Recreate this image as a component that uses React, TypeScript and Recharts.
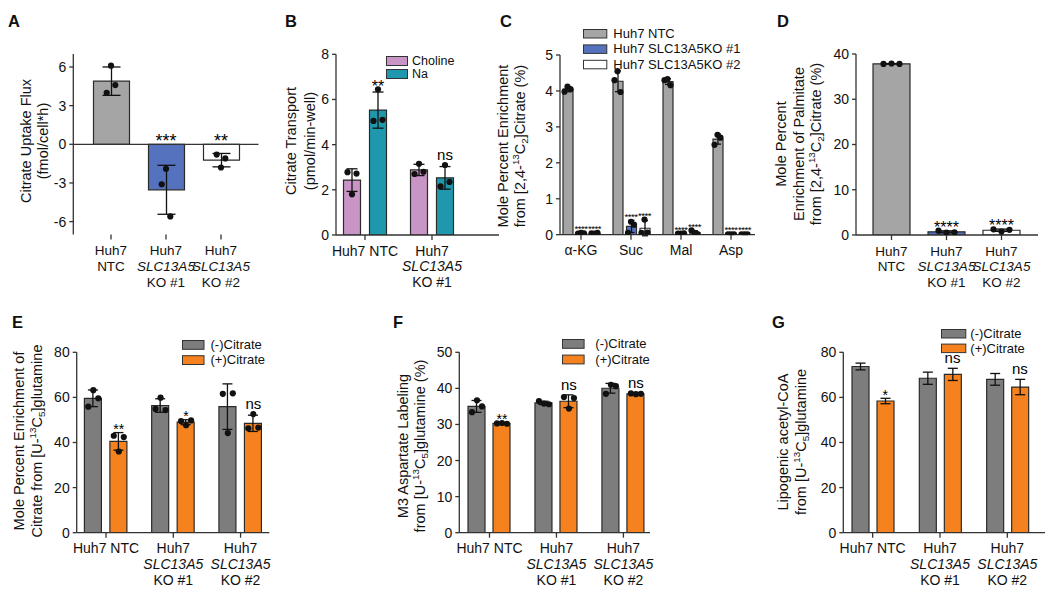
import React from 'react';
import { ComposedChart, Bar, Scatter, XAxis, YAxis, ErrorBar, Cell, ReferenceLine, Legend } from 'recharts';

const W = 1050;
const H = 607;
const FONT = '"Liberation Sans", Arial, Helvetica, sans-serif';
const INK = '#111111';
const AXIS = '#333333';

const GRAY_LIGHT = '#a5a5a5';
const BLUE = '#5472bd';
const WHITE = '#ffffff';
const CHOLINE = '#c994c6';
const NA = '#1f98ad';
const GRAY_DARK = '#7d7d7d';
const ORANGE = '#f5821f';

// ---------------- Panel A ----------------
const A_CATS = ['NTC', 'KO1', 'KO2'];
const A_TICKS = [['Huh7', 'NTC'], ['Huh7', 'SLC13A5', 'KO #1'], ['Huh7', 'SLC13A5', 'KO #2']];
const A_MEAN = [4.9, -3.53, -1.23];
const A_SD = [1.1, 1.9, 0.52];
const A_REPS = [[4.0, 6.1, 4.6], [-3.1, -1.9, -5.6], [-0.8, -1.8, -1.1]];
const A_SIG = ['', '***', '**'];

// ---------------- Panel B ----------------
const B_CATS = ['NTC', 'KO1'];
const B_TICKS = [['Huh7 NTC'], ['Huh7', 'SLC13A5', 'KO #1']];
const B_CHOLINE_MEAN = [2.43, 2.88];
const B_CHOLINE_SD = [0.5, 0.25];
const B_CHOLINE_REPS = [[2.78, 1.8, 2.72], [2.7, 3.15, 2.8]];
const B_NA_MEAN = [5.53, 2.53];
const B_NA_SD = [0.8, 0.5];
const B_NA_REPS = [[5.05, 6.45, 5.1], [2.15, 3.1, 2.35]];
const B_NA_SIG = ['**', 'ns'];

// ---------------- Panel C ----------------
const C_CATS = ['α-KG', 'Suc', 'Mal', 'Asp'];
const C_TICKS = [['α-KG'], ['Suc'], ['Mal'], ['Asp']];
const C_NTC_MEAN = [4.05, 4.27, 4.26, 2.66];
const C_NTC_SD = [0.07, 0.29, 0.08, 0.14];
const C_NTC_REPS = [[3.98, 4.12, 4.05], [4.3, 4.55, 3.97], [4.3, 4.33, 4.16], [2.5, 2.78, 2.7]];
const C_KO1_MEAN = [0.04, 0.23, 0.03, 0.01];
const C_KO1_SD = [0.01, 0.17, 0.01, 0.005];
const C_KO1_REPS = [[0.03, 0.05, 0.04], [0.05, 0.36, 0.28], [0.03, 0.03, 0.04], [0.01, 0.01, 0.01]];
const C_KO1_SIG = ['****', '****', '****', '****'];
const C_KO2_MEAN = [0.04, 0.18, 0.06, 0.01];
const C_KO2_SD = [0.01, 0.21, 0.05, 0.005];
const C_KO2_REPS = [[0.04, 0.03, 0.05], [0.05, 0.42, 0.06], [0.12, 0.05, 0.02], [0.01, 0.01, 0.01]];
const C_KO2_SIG = ['****', '****', '****', '****'];

// ---------------- Panel D ----------------
const D_CATS = ['NTC', 'KO1', 'KO2'];
const D_TICKS = [['Huh7', 'NTC'], ['Huh7', 'SLC13A5', 'KO #1'], ['Huh7', 'SLC13A5', 'KO #2']];
const D_MEAN = [37.83, 0.7, 1.05];
const D_SD = [0.06, 0.22, 0.26];
const D_REPS = [[37.8, 37.9, 37.8], [0.95, 0.55, 0.6], [1.25, 0.75, 1.15]];
const D_SIG = ['', '****', '****'];

// ---------------- Panel E ----------------
const EFG_CATS = ['NTC', 'KO1', 'KO2'];
const EFG_TICKS = [['Huh7 NTC'], ['Huh7', 'SLC13A5', 'KO #1'], ['Huh7', 'SLC13A5', 'KO #2']];
const E_MINUS_MEAN = [59.6, 56.4, 55.9];
const E_MINUS_SD = [3.7, 3.0, 10.1];
const E_MINUS_REPS = [[55.9, 63.2, 59.6], [54.9, 59.9, 54.4], [61.6, 44.2, 61.8]];
const E_PLUS_MEAN = [40.5, 49.0, 48.5];
const E_PLUS_SD = [3.9, 1.1, 3.6];
const E_PLUS_REPS = [[43.0, 36.0, 42.4], [49.5, 47.7, 49.8], [46.3, 52.6, 46.6]];
const E_PLUS_SIG = ['**', '*', 'ns'];

// ---------------- Panel F ----------------
const F_MINUS_MEAN = [35.0, 35.97, 40.03];
const F_MINUS_SD = [1.65, 0.46, 1.35];
const F_MINUS_REPS = [[33.4, 36.7, 35.0], [36.5, 35.8, 35.6], [38.5, 41.0, 40.6]];
const F_PLUS_MEAN = [30.3, 36.43, 38.5];
const F_PLUS_SD = [0.1, 1.77, 0.1];
const F_PLUS_REPS = [[30.3, 30.4, 30.2], [37.6, 34.4, 37.3], [38.6, 38.4, 38.5]];
const F_PLUS_SIG = ['**', 'ns', 'ns'];

// ---------------- Panel G ----------------
const G_MINUS_MEAN = [73.7, 68.5, 68.0];
const G_MINUS_SD = [1.5, 2.7, 2.6];
const G_PLUS_MEAN = [58.4, 70.2, 64.6];
const G_PLUS_SD = [1.2, 2.7, 3.4];
const G_PLUS_SIG = ['*', 'ns', 'ns'];

type Seg = { t: string; sup?: boolean; sub?: boolean };
type Series = {
  name: string;
  fill: string;
  mean: number[];
  sd: number[];
  reps?: number[][];
  sig?: string[];
  cellFills?: string[];
};
type PanelCfg = {
  letter: { x: number; y: number; t: string };
  cats: string[];
  tickLines: string[][];
  tickFont: number;
  series: Series[];
  plot: { l: number; r: number; t: number; b: number };
  pad: { left: number; right: number };
  yDomain: [number, number];
  yTicks: number[];
  barSize: number;
  barGap: number;
  cap: number;
  jitter: number;
  starSize: number;
  starSpacing?: number;
  yLabel: { x: number; segs: Seg[] }[];
  yLabelY: number;
  legend?: { x: number; y: number; rowH: number; boxW: number; boxH: number; textGap: number; fs: number };
  zeroLine?: boolean;
};

function buildRows(cats: string[], series: Series[]) {
  return cats.map((c, j) => {
    const row: any = { cat: c };
    series.forEach((s, i) => {
      row[`m${i}`] = s.mean[j];
      row[`e${i}`] = s.sd[j];
      if (s.reps) s.reps[j].forEach((v, k) => (row[`r${i}_${k}`] = v));
      const lab = s.sig ? s.sig[j] : '';
      if (lab) {
        const top = Math.max(0, s.mean[j] + s.sd[j], ...(s.reps ? s.reps[j] : []));
        row[`t${i}`] = top;
        row[`l${i}`] = lab;
      }
    });
    return row;
  });
}

const T = (t: string): Seg => ({ t });
const SUP = (t: string): Seg => ({ t, sup: true });
const SUB = (t: string): Seg => ({ t, sub: true });

function RichRot({ x, y, segs, fs }: { x: number; y: number; segs: Seg[]; fs: number }) {
  let shift = 0;
  const parts = segs.map((s, k) => {
    const target = s.sup ? -0.4 * fs : s.sub ? 0.22 * fs : 0;
    const dy = target - shift;
    shift = target;
    return (
      <tspan key={k} dy={dy} fontSize={s.sup || s.sub ? fs * 0.68 : fs}>
        {s.t}
      </tspan>
    );
  });
  return (
    <text x={x} y={y} transform={`rotate(-90 ${x} ${y})`} textAnchor="middle" fontFamily={FONT} fontSize={fs} fill={INK}>
      {parts}
    </text>
  );
}

function YLab(props: any) {
  const cfg: PanelCfg = props.cfg;
  return (
    <g>
      <text x={cfg.letter.x} y={cfg.letter.y} fontSize={16.5} fontWeight="bold" fontFamily={FONT} fill="#111">
        {cfg.letter.t}
      </text>
      {cfg.yLabel.map((ln, k) => (
        <RichRot key={k} x={ln.x} y={cfg.yLabelY} segs={ln.segs} fs={14.5} />
      ))}
    </g>
  );
}

const catTick = (lines: string[][], fs: number) => (p: any) => {
  const ls = lines[p.index] || [String(p.payload && p.payload.value)];
  return (
    <g>
      {ls.map((t, k) => (
        <text
          key={k}
          x={p.x}
          y={p.y + 13.5 + k * 15.8}
          textAnchor="middle"
          fontSize={fs}
          fontFamily={FONT}
          fill={INK}
          fontStyle={t === 'SLC13A5' ? 'italic' : 'normal'}
        >
          {t}
        </text>
      ))}
    </g>
  );
};

function Panel({ cfg }: { cfg: PanelCfg }) {
  const YW = 30;
  const XH = 60;
  const rows = buildRows(cfg.cats, cfg.series);
  const margin = { top: cfg.plot.t, right: W - cfg.plot.r, bottom: H - cfg.plot.b - XH, left: cfg.plot.l - YW };
  const n = cfg.series.length;
  const step = cfg.barSize + cfg.barGap;
  const offs = cfg.series.map((_, i) => (i - (n - 1) / 2) * step);

  const bars = cfg.series.map((s, i) => (
    <Bar
      key={`b${i}`}
      dataKey={`m${i}`}
      name={s.name}
      fill={s.fill}
      stroke="#2a2a2a"
      strokeWidth={1.2}
      barSize={cfg.barSize}
      isAnimationActive={false}
    >
      {s.cellFills ? s.cellFills.map((f, j) => <Cell key={j} fill={f} />) : null}
      <ErrorBar dataKey={`e${i}`} width={cfg.cap} stroke="#111" strokeWidth={1.3} direction="y" />
    </Bar>
  ));

  const dots: any[] = [];
  cfg.series.forEach((s, i) => {
    if (!s.reps) return;
    [0, 1, 2].forEach((k) => {
      dots.push(
        <Scatter
          key={`d${i}_${k}`}
          dataKey={`r${i}_${k}`}
          legendType="none"
          isAnimationActive={false}
          shape={(p: any) =>
            Number.isFinite(p.cx) && Number.isFinite(p.cy) ? (
              <circle cx={p.cx + offs[i] + (k - 1) * cfg.jitter} cy={p.cy} r={3.1} fill="#111" />
            ) : (
              <g />
            )
          }
        />
      );
    });
  });

  const sigs: any[] = [];
  cfg.series.forEach((s, i) => {
    if (!s.sig) return;
    sigs.push(
      <Scatter
        key={`s${i}`}
        dataKey={`t${i}`}
        legendType="none"
        isAnimationActive={false}
        shape={(p: any) => {
          const lab = p.payload ? p.payload[`l${i}`] : '';
          if (!lab || !Number.isFinite(p.cx) || !Number.isFinite(p.cy)) return <g />;
          const star = lab.charAt(0) === '*';
          const fs = star ? cfg.starSize : 15;
          const y = star ? p.cy - 5 + 0.45 * fs : p.cy - 5;
          return (
            <text
              x={p.cx + offs[i]}
              y={y}
              textAnchor="middle"
              fontSize={fs}
              fontFamily={FONT}
              fill="#000000"
              letterSpacing={star && cfg.starSpacing ? cfg.starSpacing : undefined}
            >
              {lab}
            </text>
          );
        }}
      />
    );
  });

  const lg = cfg.legend;
  const legendContent = () =>
    lg ? (
      <svg width={200} height={cfg.series.length * lg.rowH + 4} style={{ display: 'block', overflow: 'visible' }}>
        {cfg.series.map((s, i) => (
          <g key={i}>
            <rect x={0.5} y={i * lg.rowH + 0.5} width={lg.boxW} height={lg.boxH} fill={s.fill} stroke="#333" strokeWidth={1} />
            <text x={lg.boxW + lg.textGap} y={i * lg.rowH + lg.boxH / 2 + lg.fs * 0.36} fontSize={lg.fs} fontFamily={FONT} fill={INK}>
              {s.name}
            </text>
          </g>
        ))}
      </svg>
    ) : null;

  return (
    <div style={{ position: 'absolute', left: 0, top: 0, width: W, height: H }}>
      <ComposedChart width={W} height={H} data={rows} margin={margin} barGap={cfg.barGap}>
        <XAxis
          dataKey="cat"
          height={XH}
          padding={cfg.pad}
          interval={0}
          axisLine={cfg.zeroLine ? false : { stroke: AXIS, strokeWidth: 1.3 }}
          tickLine={{ stroke: AXIS, strokeWidth: 1.3 }}
          tickSize={5}
          tick={catTick(cfg.tickLines, cfg.tickFont)}
        />
        <YAxis
          width={YW}
          type="number"
          domain={cfg.yDomain}
          ticks={cfg.yTicks}
          allowDataOverflow
          interval={0}
          tickSize={4}
          tickMargin={3}
          axisLine={{ stroke: AXIS, strokeWidth: 1.3 }}
          tickLine={{ stroke: AXIS, strokeWidth: 1.3 }}
          tick={{ fontSize: 14, fill: INK, fontFamily: FONT }}
          label={<YLab cfg={cfg} />}
        />
        {cfg.zeroLine ? <ReferenceLine y={0} stroke={AXIS} strokeWidth={1.3} /> : null}
        {bars}
        {dots}
        {sigs}
        {lg ? (
          <Legend
            layout="vertical"
            align="center"
            verticalAlign="middle"
            wrapperStyle={{ left: lg.x, top: lg.y, width: 'auto', height: 'auto', lineHeight: 0 }}
            content={legendContent}
          />
        ) : null}
      </ComposedChart>
    </div>
  );
}

const PANELS: PanelCfg[] = [
  {
    letter: { x: 8, y: 27, t: 'A' },
    cats: A_CATS,
    tickLines: A_TICKS,
    tickFont: 13.5,
    series: [
      { name: 'Citrate uptake flux', fill: GRAY_LIGHT, mean: A_MEAN, sd: A_SD, reps: A_REPS, sig: A_SIG, cellFills: [GRAY_LIGHT, BLUE, WHITE] },
    ],
    plot: { l: 73.3, r: 258.5, t: 54.1, b: 234.5 },
    pad: { left: 10.2, right: 10 },
    yDomain: [-7, 7],
    yTicks: [-6, -3, 0, 3, 6],
    barSize: 36,
    barGap: 0,
    cap: 9,
    jitter: 4.3,
    starSize: 18,
    yLabel: [
      { x: 30.5, segs: [T('Citrate Uptake Flux')] },
      { x: 48, segs: [T('(fmol/cell*h)')] },
    ],
    yLabelY: 141,
    zeroLine: true,
  },
  {
    letter: { x: 285, y: 27, t: 'B' },
    cats: B_CATS,
    tickLines: B_TICKS,
    tickFont: 14,
    series: [
      { name: 'Choline', fill: CHOLINE, mean: B_CHOLINE_MEAN, sd: B_CHOLINE_SD, reps: B_CHOLINE_REPS },
      { name: 'Na', fill: NA, mean: B_NA_MEAN, sd: B_NA_SD, reps: B_NA_REPS, sig: B_NA_SIG },
    ],
    plot: { l: 336, r: 499, t: 54.3, b: 235 },
    pad: { left: -4.5, right: 33.5 },
    yDomain: [0, 8],
    yTicks: [0, 2, 4, 6, 8],
    barSize: 17,
    barGap: 9,
    cap: 5.5,
    jitter: 4.5,
    starSize: 16,
    yLabel: [
      { x: 295.5, segs: [T('Citrate Transport')] },
      { x: 315, segs: [T('(pmol/min-well)')] },
    ],
    yLabelY: 141,
    legend: { x: 386, y: 56, rowH: 13, boxW: 21, boxH: 9, textGap: 5, fs: 12.5 },
  },
  {
    letter: { x: 500, y: 27, t: 'C' },
    cats: C_CATS,
    tickLines: C_TICKS,
    tickFont: 14,
    series: [
      { name: 'Huh7 NTC', fill: GRAY_LIGHT, mean: C_NTC_MEAN, sd: C_NTC_SD, reps: C_NTC_REPS },
      { name: 'Huh7 SLC13A5KO #1', fill: BLUE, mean: C_KO1_MEAN, sd: C_KO1_SD, reps: C_KO1_REPS, sig: C_KO1_SIG },
      { name: 'Huh7 SLC13A5KO #2', fill: WHITE, mean: C_KO2_MEAN, sd: C_KO2_SD, reps: C_KO2_REPS, sig: C_KO2_SIG },
    ],
    plot: { l: 560, r: 755, t: 55, b: 234.7 },
    pad: { left: -4, right: -1 },
    yDomain: [0, 5],
    yTicks: [0, 1, 2, 3, 4, 5],
    barSize: 10,
    barGap: 3.5,
    cap: 3,
    jitter: 3,
    starSize: 9.5,
    starSpacing: -0.45,
    yLabel: [
      { x: 508, segs: [T('Mole Percent Enrichment')] },
      { x: 525, segs: [T('from [2,4-'), SUP('13'), T('C'), SUB('2'), T(']Citrate (%)')] },
    ],
    yLabelY: 146,
    legend: { x: 583, y: 29, rowH: 15.4, boxW: 23.3, boxH: 8.5, textGap: 7, fs: 13 },
  },
  {
    letter: { x: 777, y: 27, t: 'D' },
    cats: D_CATS,
    tickLines: D_TICKS,
    tickFont: 13.5,
    series: [
      { name: 'Palmitate enrichment', fill: GRAY_LIGHT, mean: D_MEAN, sd: D_SD, reps: D_REPS, sig: D_SIG, cellFills: [GRAY_LIGHT, BLUE, WHITE] },
    ],
    plot: { l: 856, r: 1038, t: 54, b: 235 },
    pad: { left: 8, right: 9 },
    yDomain: [0, 40],
    yTicks: [0, 10, 20, 30, 40],
    barSize: 37,
    barGap: 0,
    cap: 8,
    jitter: 8,
    starSize: 16,
    yLabel: [
      { x: 786, segs: [T('Mole Percent')] },
      { x: 803.5, segs: [T('Enrichment of Palmitate')] },
      { x: 821, segs: [T('from [2,4-'), SUP('13'), T('C'), SUB('2'), T(']Citrate (%)')] },
    ],
    yLabelY: 144,
  },
  {
    letter: { x: 12, y: 328, t: 'E' },
    cats: EFG_CATS,
    tickLines: EFG_TICKS,
    tickFont: 14,
    series: [
      { name: '(-)Citrate', fill: GRAY_DARK, mean: E_MINUS_MEAN, sd: E_MINUS_SD, reps: E_MINUS_REPS },
      { name: '(+)Citrate', fill: ORANGE, mean: E_PLUS_MEAN, sd: E_PLUS_SD, reps: E_PLUS_REPS, sig: E_PLUS_SIG },
    ],
    plot: { l: 76.7, r: 269.3, t: 352.3, b: 532.7 },
    pad: { left: -4.3, right: -4.9 },
    yDomain: [0, 80],
    yTicks: [0, 20, 40, 60, 80],
    barSize: 17,
    barGap: 8.5,
    cap: 5,
    jitter: 5,
    starSize: 14,
    yLabel: [
      { x: 24, segs: [T('Mole Percent Enrichment of')] },
      { x: 41.5, segs: [T('Citrate from [U-'), SUP('13'), T('C'), SUB('5'), T(']glutamine')] },
    ],
    yLabelY: 441,
    legend: { x: 182, y: 339.8, rowH: 15.2, boxW: 21.5, boxH: 8.8, textGap: 7, fs: 13 },
  },
  {
    letter: { x: 393, y: 328, t: 'F' },
    cats: EFG_CATS,
    tickLines: EFG_TICKS,
    tickFont: 14,
    series: [
      { name: '(-)Citrate', fill: GRAY_DARK, mean: F_MINUS_MEAN, sd: F_MINUS_SD, reps: F_MINUS_REPS },
      { name: '(+)Citrate', fill: ORANGE, mean: F_PLUS_MEAN, sd: F_PLUS_SD, reps: F_PLUS_REPS, sig: F_PLUS_SIG },
    ],
    plot: { l: 459.3, r: 650, t: 352.3, b: 532.7 },
    pad: { left: -3.3, right: -6.9 },
    yDomain: [0, 50],
    yTicks: [0, 10, 20, 30, 40, 50],
    barSize: 17,
    barGap: 8,
    cap: 5,
    jitter: 5,
    starSize: 14,
    yLabel: [
      { x: 408, segs: [T('M3 Aspartate Labeling')] },
      { x: 425, segs: [T('from [U-'), SUP('13'), T('C'), SUB('5'), T(']glutamine (%)')] },
    ],
    yLabelY: 446,
    legend: { x: 561.7, y: 339.3, rowH: 15.6, boxW: 21.6, boxH: 8.8, textGap: 11.7, fs: 13 },
  },
  {
    letter: { x: 772, y: 328, t: 'G' },
    cats: EFG_CATS,
    tickLines: EFG_TICKS,
    tickFont: 14,
    series: [
      { name: '(-)Citrate', fill: GRAY_DARK, mean: G_MINUS_MEAN, sd: G_MINUS_SD },
      { name: '(+)Citrate', fill: ORANGE, mean: G_PLUS_MEAN, sd: G_PLUS_SD, sig: G_PLUS_SIG },
    ],
    plot: { l: 843.3, r: 1045, t: 352.3, b: 532.7 },
    pad: { left: -4.3, right: 4 },
    yDomain: [0, 80],
    yTicks: [0, 20, 40, 60, 80],
    barSize: 17,
    barGap: 8,
    cap: 5,
    jitter: 5,
    starSize: 14,
    yLabel: [
      { x: 788, segs: [T('Lipogenic acetyl-CoA')] },
      { x: 806, segs: [T('from [U-'), SUP('13'), T('C'), SUB('5'), T(']glutamine')] },
    ],
    yLabelY: 442,
    legend: { x: 940.7, y: 329.3, rowH: 14.6, boxW: 24.3, boxH: 8.5, textGap: 5, fs: 13 },
  },
];

export default function App() {
  return (
    <div style={{ position: 'absolute', left: 0, top: 0, width: W, height: H, background: '#ffffff', overflow: 'hidden' }}>
      {PANELS.map((cfg, i) => (
        <Panel key={i} cfg={cfg} />
      ))}
    </div>
  );
}
